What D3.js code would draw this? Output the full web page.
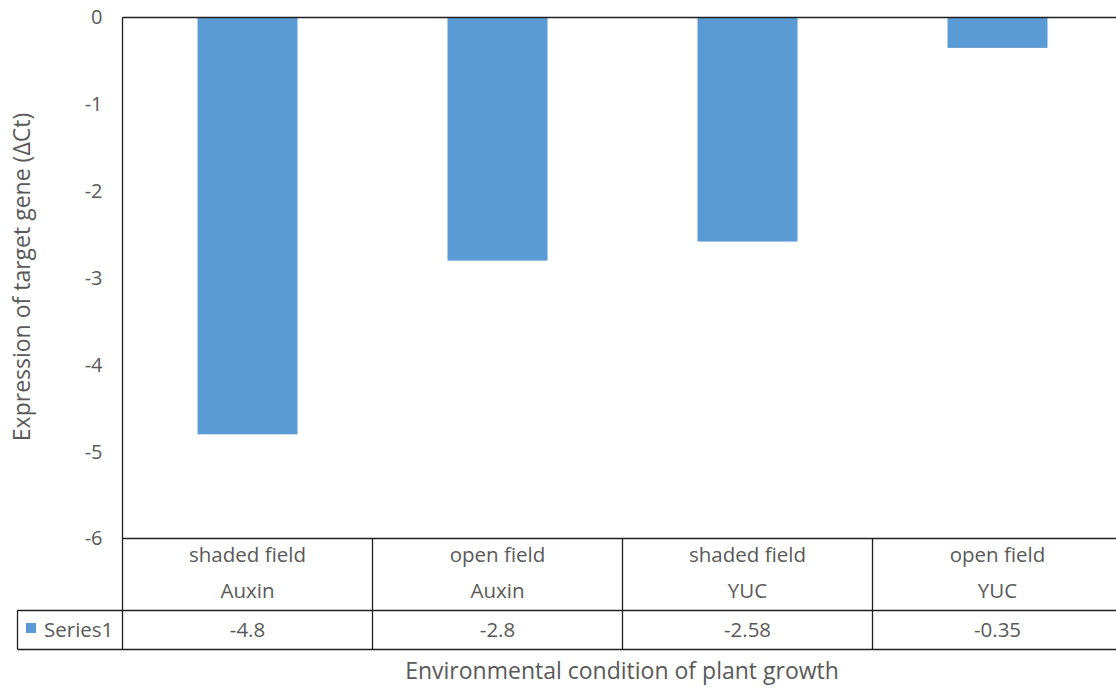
<!DOCTYPE html>
<html>
<head>
<meta charset="utf-8">
<script src="https://cdn.jsdelivr.net/npm/d3@7"></script>
<style>
  html, body { margin: 0; padding: 0; background: #fff; }
  svg { display: block; }
  text { font-family: "Open Sans", "Noto Sans", sans-serif; fill: #595959; }
</style>
</head>
<body>
<svg id="chart" width="1116" height="688"></svg>
<script>
// Chart data
const conditions = ["shaded field", "open field", "shaded field", "open field"];
const genes = ["Auxin", "Auxin", "YUC", "YUC"];
const values = [-4.8, -2.8, -2.58, -0.35];
const valueLabels = ["-4.8", "-2.8", "-2.58", "-0.35"];
const yTicks = [0, -1, -2, -3, -4, -5, -6];
const seriesName = "Series1";

(function () {
  const svg = d3.select("#chart");
  const plotLeft = 122.5, plotRight = 1122.5, plotTop = 17.5, plotBottom = 538.5;
  const tableMid = 610.5, tableBottom = 649.5, legendLeft = 17.5;
  const ink = "#1f1f1f";

  const x = d3.scaleBand().domain(d3.range(values.length)).range([plotLeft, plotRight]);
  const y = d3.scaleLinear().domain([-6, 0]).range([plotBottom, plotTop]);
  const barW = x.bandwidth() * 0.4;

  // Bars
  svg.append("g").selectAll("rect").data(values).join("rect")
    .attr("x", (d, i) => x(i) + (x.bandwidth() - barW) / 2)
    .attr("y", y(0))
    .attr("width", barW)
    .attr("height", d => y(d) - y(0))
    .attr("fill", "#5B9BD5");

  // Y axis tick labels (plain hyphen for negatives)
  const yAxis = d3.axisLeft(y).tickValues(yTicks).tickSize(0).tickPadding(20).tickFormat(d => String(d));
  const ya = svg.append("g").attr("transform", `translate(${plotLeft},0)`).call(yAxis);
  ya.select(".domain").remove();
  ya.selectAll("text").style("font-size", "20px").attr("fill", "#595959")
    .style("font-family", "'Open Sans', sans-serif");

  // Frame and table lines
  const lines = svg.append("g").attr("stroke", ink).attr("stroke-width", 1.3).attr("fill", "none");
  lines.append("line").attr("x1", plotLeft).attr("x2", plotRight).attr("y1", plotTop).attr("y2", plotTop);
  lines.append("line").attr("x1", plotLeft).attr("x2", plotLeft).attr("y1", plotTop).attr("y2", tableBottom);
  lines.append("line").attr("x1", plotLeft).attr("x2", plotRight).attr("y1", plotBottom).attr("y2", plotBottom);
  lines.append("line").attr("x1", legendLeft).attr("x2", plotRight).attr("y1", tableMid).attr("y2", tableMid);
  lines.append("line").attr("x1", legendLeft).attr("x2", plotRight).attr("y1", tableBottom).attr("y2", tableBottom);
  lines.append("line").attr("x1", legendLeft).attr("x2", legendLeft).attr("y1", tableMid).attr("y2", tableBottom);
  lines.selectAll(".sep").data(d3.range(1, values.length)).join("line")
    .attr("x1", i => x(i)).attr("x2", i => x(i))
    .attr("y1", plotBottom).attr("y2", tableBottom);

  // Category labels (two rows)
  const cat = svg.append("g").attr("text-anchor", "middle").style("font-size", "20.5px");
  cat.selectAll(".c1").data(conditions).join("text")
    .attr("x", (d, i) => x(i) + x.bandwidth() / 2).attr("y", 562).text(d => d);
  cat.selectAll(".c2").data(genes).join("text")
    .attr("x", (d, i) => x(i) + x.bandwidth() / 2).attr("y", 598).text(d => d);

  // Data table values
  cat.selectAll(".v").data(valueLabels).join("text")
    .attr("x", (d, i) => x(i) + x.bandwidth() / 2).attr("y", 637).text(d => d);

  // Legend key
  svg.append("rect").attr("x", 26).attr("y", 623).attr("width", 10).attr("height", 10).attr("fill", "#5B9BD5");
  svg.append("text").attr("x", 44).attr("y", 637).style("font-size", "20.5px").text(seriesName);

  // Axis titles
  svg.append("text").attr("x", 622).attr("y", 679).attr("text-anchor", "middle")
    .style("font-size", "23px").text("Environmental condition of plant growth");
  svg.append("text").attr("transform", "translate(30,277) rotate(-90)").attr("text-anchor", "middle")
    .style("font-size", "23px").text("Expression of target gene (ΔCt)");
})();
</script>
</body>
</html>
